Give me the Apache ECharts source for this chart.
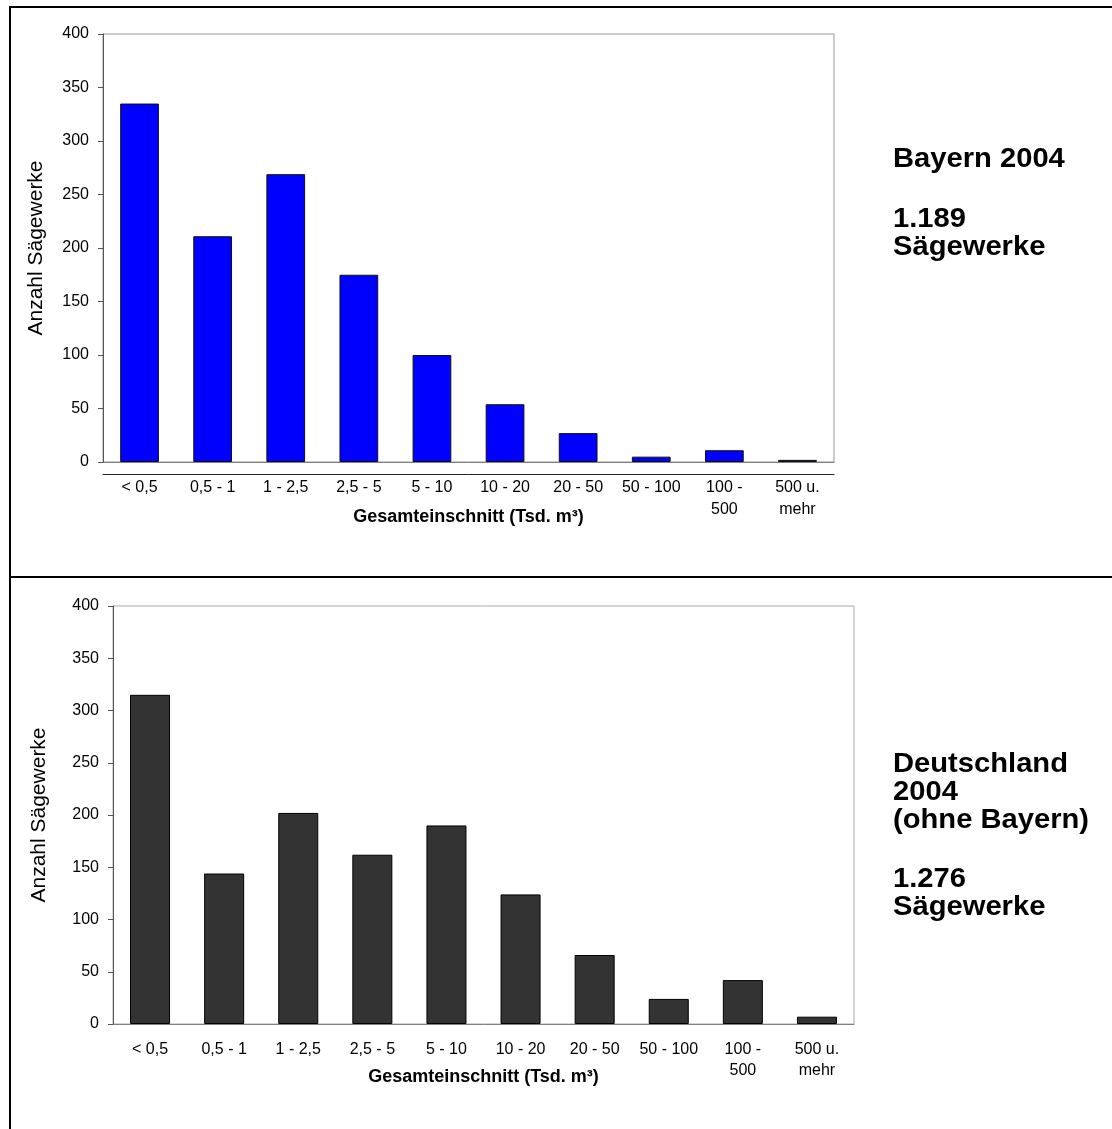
<!DOCTYPE html>
<html>
<head>
<meta charset="utf-8">
<title>Sägewerke nach Gesamteinschnitt 2004</title>
<script src="https://cdn.jsdelivr.net/npm/echarts@6/dist/echarts.min.js"></script>
<style>
  html, body { margin: 0; padding: 0; background: #fff; }
  #chart { width: 1112px; height: 1129px; }
</style>
</head>
<body>
<div id="chart"></div>
<script>
// size classes (Tsd. m³) and sawmill counts
const categories = ['< 0,5', '0,5 - 1', '1 - 2,5', '2,5 - 5', '5 - 10', '10 - 20', '20 - 50', '50 - 100', '100 -\n500', '500 u.\nmehr']
const bayernValues = [335, 211, 269, 175, 100, 54, 27, 5, 11, 2]
const deutschlandValues = [315, 144, 202, 162, 190, 124, 66, 24, 42, 7]
const yMin = 0
const yMax = 400
const yStep = 50
const yAxisTitle = 'Anzahl Sägewerke'
const xAxisTitle = 'Gesamteinschnitt (Tsd. m³)'
const bayernHeading = ['Bayern 2004']
const bayernCount = ['1.189', 'Sägewerke']
const deutschlandHeading = ['Deutschland', '2004', '(ohne Bayern)']
const deutschlandCount = ['1.276', 'Sägewerke']

const FONT = '"Liberation Sans", Arial, sans-serif'

const chart = echarts.init(document.getElementById('chart'))

const makeXAxis = (gridIndex, lineHeight, nameGap) => ({
  type: 'category',
  gridIndex,
  data: categories,
  axisLine: { lineStyle: { color: '#808080', width: 1 } },
  axisTick: { length: 5, lineStyle: { color: '#333' } },
  axisLabel: {
    color: '#000',
    fontFamily: FONT,
    fontSize: 16,
    lineHeight,
    margin: 15,
    interval: 0
  },
  name: xAxisTitle,
  nameLocation: 'middle',
  nameGap,
  nameMoveOverlap: false,
  nameTextStyle: { color: '#000', fontFamily: FONT, fontSize: 18, fontWeight: 'bold' }
})

const makeYAxis = (gridIndex, nameGap) => ({
  type: 'value',
  gridIndex,
  min: yMin,
  max: yMax,
  interval: yStep,
  axisLine: { show: true, lineStyle: { color: '#555', width: 1 } },
  axisTick: { show: true, length: 5, lineStyle: { color: '#555' } },
  splitLine: { show: false },
  axisLabel: { color: '#000', fontFamily: FONT, fontSize: 16, margin: 14 },
  name: yAxisTitle,
  nameLocation: 'middle',
  nameGap,
  nameMoveOverlap: false,
  nameTextStyle: { color: '#000', fontFamily: FONT, fontSize: 21 }
})

// bold side notes, Arial-like but set a little wide as in the original
const noteText = (lines, x, y) => ({
  type: 'text',
  x,
  y,
  scaleX: 1.08,
  style: {
    text: lines.join('\n'),
    fill: '#000',
    fontFamily: FONT,
    fontSize: 27,
    fontWeight: 'bold',
    lineHeight: 28,
    verticalAlign: 'top'
  }
})

const option = {
  animation: false,
  backgroundColor: '#fff',
  grid: [
    { left: 103, right: 278, top: 34, bottom: 667, show: true, borderColor: '#999', borderWidth: 1 },
    { left: 113, right: 258, top: 606, bottom: 105, show: true, borderColor: '#aaa', borderWidth: 1 }
  ],
  xAxis: [
    makeXAxis(0, 22, 46),
    // extra dark rule under the top chart's axis
    {
      type: 'category',
      gridIndex: 0,
      data: categories,
      position: 'bottom',
      offset: 12,
      axisLine: { lineStyle: { color: '#222', width: 1 } },
      axisTick: { show: false },
      axisLabel: { show: false }
    },
    makeXAxis(1, 21, 44)
  ],
  yAxis: [
    makeYAxis(0, 56),
    makeYAxis(1, 63)
  ],
  series: [
    {
      name: 'Bayern 2004',
      type: 'bar',
      xAxisIndex: 0,
      yAxisIndex: 0,
      data: bayernValues,
      barWidth: '53%',
      itemStyle: { color: '#0000ff', borderColor: '#111', borderWidth: 1 }
    },
    {
      name: 'Deutschland 2004 (ohne Bayern)',
      type: 'bar',
      xAxisIndex: 2,
      yAxisIndex: 1,
      data: deutschlandValues,
      barWidth: '54%',
      itemStyle: { color: '#333333', borderColor: '#000', borderWidth: 1 }
    }
  ],
  graphic: [
    // frame lines
    { type: 'line', shape: { x1: 9, y1: 7, x2: 1112, y2: 7 }, style: { stroke: '#000', lineWidth: 2 } },
    { type: 'line', shape: { x1: 10, y1: 6, x2: 10, y2: 1129 }, style: { stroke: '#000', lineWidth: 2 } },
    { type: 'line', shape: { x1: 9, y1: 577, x2: 1112, y2: 577 }, style: { stroke: '#000', lineWidth: 2 } },
    noteText(bayernHeading, 893, 146),
    noteText(bayernCount, 893, 206),
    noteText(deutschlandHeading, 893, 751),
    noteText(deutschlandCount, 893, 866)
  ]
}

chart.setOption(option)
</script>
</body>
</html>
